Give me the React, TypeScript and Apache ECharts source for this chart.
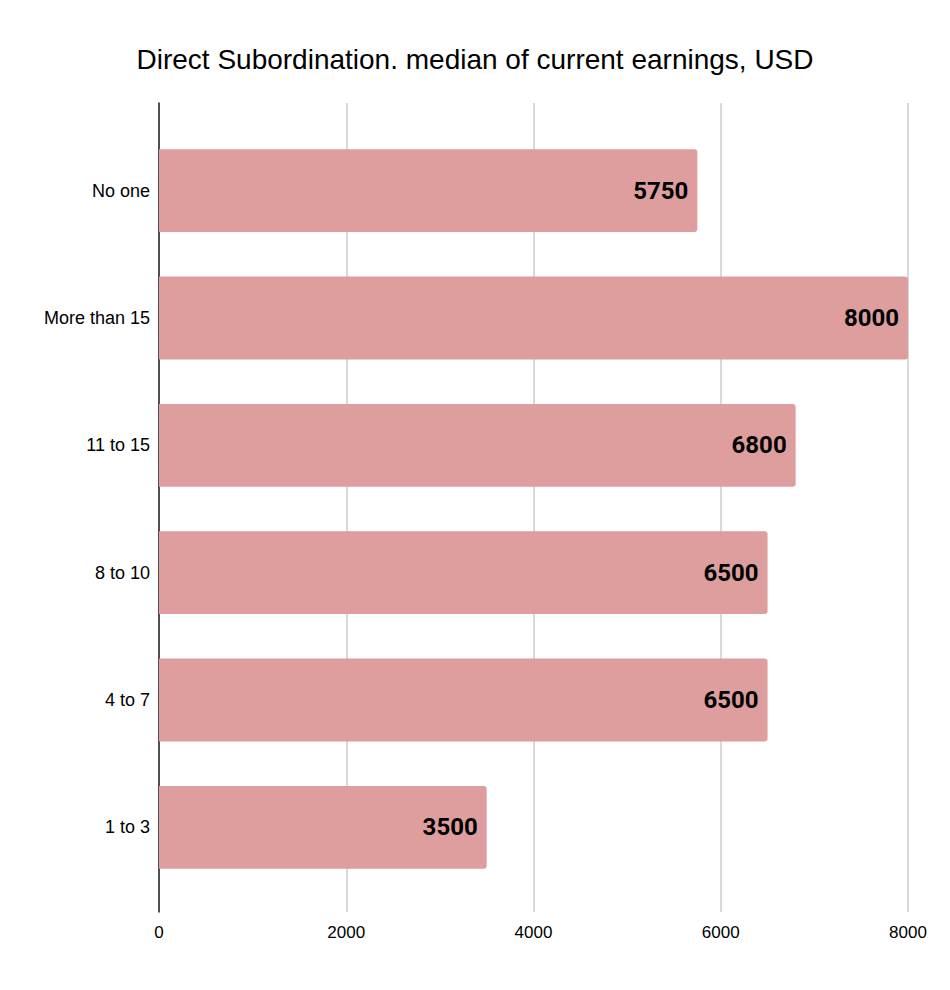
import React, { useEffect, useRef } from "react";
import * as echarts from "echarts";

const categories = ["1 to 3", "4 to 7", "8 to 10", "11 to 15", "More than 15", "No one"];
const values = [3500, 6500, 6500, 6800, 8000, 5750];
const xTicks = [0, 2000, 4000, 6000, 8000];
const title = "Direct Subordination. median of current earnings, USD";

export default function App() {
  const ref = useRef<HTMLDivElement>(null);
  useEffect(() => {
    if (!ref.current) return;
    const chart = echarts.init(ref.current, null, { renderer: "svg" });
    const font = "Liberation Sans, Arial";
    chart.setOption({
      animation: false,
      backgroundColor: "#ffffff",
      title: {
        text: title,
        left: "center",
        top: 40,
        textStyle: { fontFamily: font, fontSize: 28, fontWeight: "normal", color: "#000" },
      },
      grid: [
        { left: 159, right: 42, top: 127, bottom: 99, containLabel: false },
        { left: 159, right: 42, top: 103, bottom: 78, containLabel: false },
      ],
      xAxis: [
        {
          gridIndex: 0,
          type: "value",
          min: xTicks[0],
          max: xTicks[xTicks.length - 1],
          interval: 2000,
          show: false,
        },
        {
          gridIndex: 1,
          type: "value",
          min: xTicks[0],
          max: xTicks[xTicks.length - 1],
          interval: 2000,
          axisLine: { show: false },
          axisTick: { show: false },
          splitLine: { show: true, lineStyle: { color: "#cccccc", width: 1.5 } },
          axisLabel: { fontFamily: font, fontSize: 17, color: "#000", margin: 12, formatter: (v: number) => String(v) },
        },
      ],
      yAxis: [
        {
          gridIndex: 0,
          type: "category",
          data: categories,
          axisLine: { show: false },
          axisTick: { show: false },
          axisLabel: { fontFamily: font, fontSize: 18, color: "#000", margin: 9 },
        },
        {
          gridIndex: 1,
          type: "value",
          min: 0,
          max: 1,
          axisLine: { show: true, lineStyle: { color: "#222", width: 1.5 } },
          axisTick: { show: false },
          axisLabel: { show: false },
          splitLine: { show: false },
        },
      ],
      series: [
        {
          type: "bar",
          xAxisIndex: 0,
          yAxisIndex: 0,
          data: values,
          barCategoryGap: "35%",
          z: 3,
          itemStyle: { color: "#dd9e9d", borderRadius: [0, 3, 3, 0] },
          label: {
            show: true,
            position: "insideRight",
            distance: 9,
            fontFamily: "Roboto, Liberation Sans, Arial",
            fontWeight: "bold",
            fontSize: 24,
            color: "#000",
          },
        },
      ],
    });
    return () => chart.dispose();
  }, []);
  return <div ref={ref} style={{ position: "fixed", left: 0, top: 0, width: 950, height: 990 }} />;
}
